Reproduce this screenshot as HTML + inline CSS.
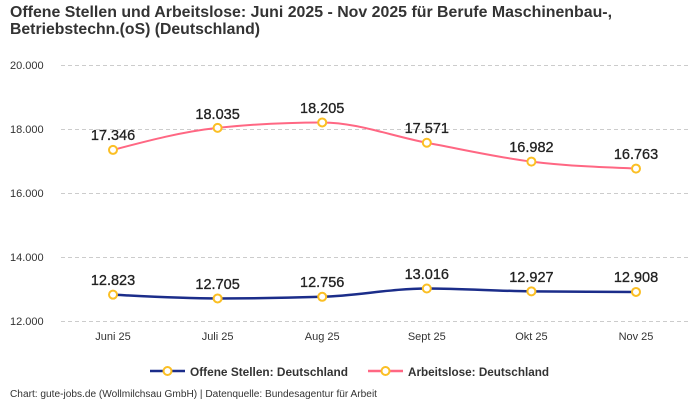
<!DOCTYPE html>
<html>
<head>
<meta charset="utf-8">
<style>
  html, body { margin: 0; padding: 0; background: #ffffff; }
  svg { display: block; }
  text { font-family: "Liberation Sans", "DejaVu Sans", sans-serif; }
</style>
</head>
<body>
<svg width="700" height="400" viewBox="0 0 700 400" xmlns="http://www.w3.org/2000/svg">
  <rect x="0" y="0" width="700" height="400" fill="#ffffff"/>

  <!-- Title -->
  <text x="10" y="17" font-size="16" font-weight="bold" fill="#333333" textLength="602" lengthAdjust="spacingAndGlyphs">Offene Stellen und Arbeitslose: Juni 2025 - Nov 2025 für Berufe Maschinenbau-,</text>
  <text x="10" y="34" font-size="16" font-weight="bold" fill="#333333" textLength="250" lengthAdjust="spacingAndGlyphs">Betriebstechn.(oS) (Deutschland)</text>

  <!-- Grid lines -->
  <g stroke="#cccccc" stroke-width="1" stroke-dasharray="4,3">
    <line x1="61" y1="65.5" x2="688" y2="65.5"/>
    <line x1="61" y1="129.5" x2="688" y2="129.5"/>
    <line x1="61" y1="193.5" x2="688" y2="193.5"/>
    <line x1="61" y1="257.5" x2="688" y2="257.5"/>
    <line x1="61" y1="321.5" x2="688" y2="321.5"/>
  </g>

  <!-- Y axis labels -->
  <g font-size="11" fill="#333333">
    <text x="10" y="69">20.000</text>
    <text x="10" y="133">18.000</text>
    <text x="10" y="197">16.000</text>
    <text x="10" y="261">14.000</text>
    <text x="10" y="325">12.000</text>
  </g>

  <!-- X axis labels -->
  <g font-size="11" fill="#333333" text-anchor="middle">
    <text x="113" y="340">Juni 25</text>
    <text x="217.6" y="340">Juli 25</text>
    <text x="322.2" y="340">Aug 25</text>
    <text x="426.8" y="340">Sept 25</text>
    <text x="531.4" y="340">Okt 25</text>
    <text x="636" y="340">Nov 25</text>
  </g>

  <!-- Arbeitslose (pink) -->
  <path d="M113,149.93 C147.87,140.72 182.73,131.51 217.6,127.88 C252.47,124.25 287.33,122.44 322.2,122.44 C357.07,122.44 391.93,136.21 426.8,142.73 C461.67,149.25 496.53,157.27 531.4,161.58 C566.27,165.89 601.13,167.23 636,168.58" fill="none" stroke="#ff6783" stroke-width="2"/>

  <!-- Offene Stellen (blue) -->
  <path d="M113,294.66 C147.87,296.55 182.73,298.44 217.6,298.44 C252.47,298.44 287.33,297.90 322.2,296.81 C357.07,295.72 391.93,288.49 426.8,288.49 C461.67,288.49 496.53,290.94 531.4,291.34 C566.27,291.74 601.13,291.84 636,291.94" fill="none" stroke="#1b2d8a" stroke-width="2.5"/>

  <!-- Markers -->
  <g fill="#ffffff" stroke="#fbbf24" stroke-width="2">
    <circle cx="113" cy="149.93" r="4"/>
    <circle cx="217.6" cy="127.88" r="4"/>
    <circle cx="322.2" cy="122.44" r="4"/>
    <circle cx="426.8" cy="142.73" r="4"/>
    <circle cx="531.4" cy="161.58" r="4"/>
    <circle cx="636" cy="168.58" r="4"/>

    <circle cx="113" cy="294.66" r="4"/>
    <circle cx="217.6" cy="298.44" r="4"/>
    <circle cx="322.2" cy="296.81" r="4"/>
    <circle cx="426.8" cy="288.49" r="4"/>
    <circle cx="531.4" cy="291.34" r="4"/>
    <circle cx="636" cy="291.94" r="4"/>
  </g>

  <!-- Data labels -->
  <g font-size="14.5" fill="#222222" stroke="#222222" stroke-width="0.3" text-anchor="middle">
    <text x="113" y="140">17.346</text>
    <text x="217.6" y="119">18.035</text>
    <text x="322.2" y="113">18.205</text>
    <text x="426.8" y="133">17.571</text>
    <text x="531.4" y="152">16.982</text>
    <text x="636" y="159">16.763</text>

    <text x="113" y="285">12.823</text>
    <text x="217.6" y="289">12.705</text>
    <text x="322.2" y="287">12.756</text>
    <text x="426.8" y="279">13.016</text>
    <text x="531.4" y="282">12.927</text>
    <text x="636" y="282">12.908</text>
  </g>

  <!-- Legend -->
  <line x1="150" y1="371" x2="185" y2="371" stroke="#1b2d8a" stroke-width="2.5"/>
  <circle cx="167.5" cy="371" r="4" fill="#ffffff" stroke="#fbbf24" stroke-width="2"/>
  <text x="190" y="376" font-size="12" font-weight="bold" fill="#333333" textLength="158" lengthAdjust="spacingAndGlyphs">Offene Stellen: Deutschland</text>

  <line x1="368" y1="371" x2="403" y2="371" stroke="#ff6783" stroke-width="2.5"/>
  <circle cx="385.5" cy="371" r="4" fill="#ffffff" stroke="#fbbf24" stroke-width="2"/>
  <text x="408" y="376" font-size="12" font-weight="bold" fill="#333333" textLength="141" lengthAdjust="spacingAndGlyphs">Arbeitslose: Deutschland</text>

  <!-- Footer -->
  <text x="10" y="397" font-size="10" fill="#333333" textLength="367" lengthAdjust="spacingAndGlyphs">Chart: gute-jobs.de (Wollmilchsau GmbH) | Datenquelle: Bundesagentur für Arbeit</text>
</svg>
</body>
</html>
